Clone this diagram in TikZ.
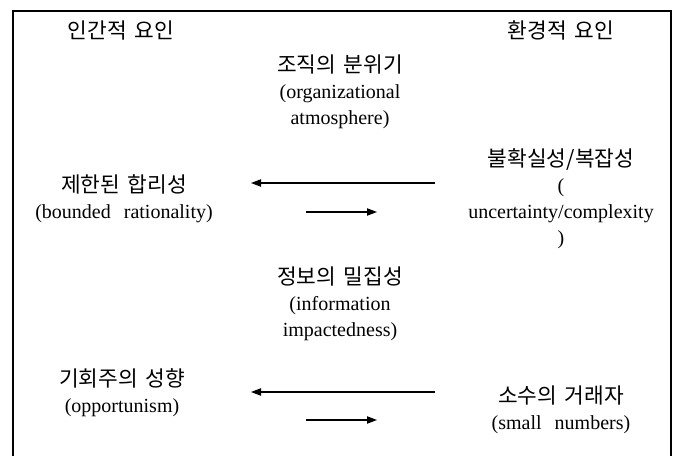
\documentclass[tikz,border=0pt]{standalone}
\usepackage{fontspec}
\setmainfont{Liberation Serif}[WordSpace=2.6]
\newfontfamily\kr{Noto Sans CJK KR}[WordSpace=1.6, Scale=1.07]
\usetikzlibrary{arrows.meta}

\begin{document}
\begin{tikzpicture}[x=0.75pt, y=-0.75pt,
frame/.style={line width=2.2pt},
lbl/.style={inner sep=0pt, align=center, font=\fontsize{15}{19.5}\selectfont},
arr/.style={line width=0.8pt, -{Triangle[length=7.5pt, width=5.5pt]}}]

\def\xl{122}	% left column
\def\xm{340}	% middle column
\def\xr{561}	% right column
\def\ytop{11}

\useasboundingbox (0,0) rectangle (678,456);
\draw[frame] (13,456) -- (13,\ytop) -- (671,\ytop) -- (671,456);

% headings
\node[lbl] (human) at (121,30) {\kr 인간적 요인};
\node[lbl] (envir) at (\xr,30) {\kr 환경적 요인};

% factors
\node[lbl] (atmos) at (\xm,92) {{\kr 조직의 분위기}\\(organizational\\atmosphere)};
\node[lbl] (bound) at (\xl+2,199) {{\kr 제한된 합리성}\\(bounded rationality)};
\node[lbl] (uncert) at (\xr,199) {{\kr 불확실성/복잡성}\\(\\uncertainty/complexity\\)};
\node[lbl] (impact) at (\xm,304) {{\kr 정보의 밀집성}\\(information\\impactedness)};
\node[lbl] (oppor) at (\xl,393) {{\kr 기회주의 성향}\\(opportunism)};
\node[lbl] (small) at (\xr,410) {{\kr 소수의 거래자}\\(small numbers)};

% arrows
\coordinate (a1) at (435,183);
\coordinate (b1) at (251,183);
\coordinate (c1) at (306,212);
\coordinate (d1) at (377,212);
\coordinate (a2) at (435,392);
\coordinate (b2) at (251,392);
\coordinate (c2) at (306,420);
\coordinate (d2) at (377,420);
\draw[arr] (a1) -- (b1);
\draw[arr] (c1) -- (d1);
\draw[arr] (a2) -- (b2);
\draw[arr] (c2) -- (d2);

\end{tikzpicture}
\end{document}
